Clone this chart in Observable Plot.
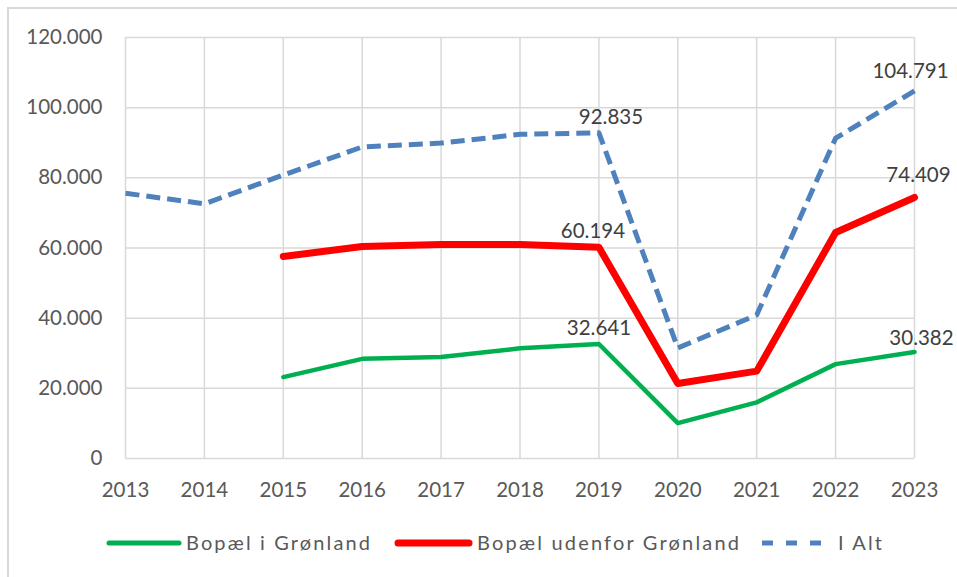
<!DOCTYPE html>
<html><head><meta charset="utf-8">
<script src="https://cdn.jsdelivr.net/npm/d3@7"></script>
<script src="https://cdn.jsdelivr.net/npm/@observablehq/plot@0.6"></script>
<style>
body{margin:0;background:#fff;font-family:Lato,sans-serif;}
#wrap{position:relative;width:957px;height:577px;overflow:hidden;background:#fff;}
#frame{position:absolute;left:7px;top:7px;width:1000px;height:700px;border-top:2px solid #d9d9d9;border-left:2px solid #d9d9d9;}
#chart{position:absolute;left:0;top:0;}
#legend{position:absolute;left:0;top:520px;}
</style></head><body>
<div id="wrap"><div id="frame"></div><div id="chart"></div><div id="legend"></div></div>
<script>
const years = [2013, 2014, 2015, 2016, 2017, 2018, 2019, 2020, 2021, 2022, 2023];
const bopaelIGronland = [null, null, 23200, 28400, 28900, 31400, 32641, 10100, 16000, 26900, 30382];
const bopaelUdenfor = [null, null, 57600, 60400, 61000, 61000, 60194, 21400, 24900, 64400, 74409];
const iAlt = [75600, 72600, 80800, 88800, 89900, 92400, 92835, 31500, 40900, 91300, 104791];
const yTicks = [0, 20000, 40000, 60000, 80000, 100000, 120000];
const seriesNames = ["Bopæl i Grønland", "Bopæl udenfor Grønland", "I Alt"];
const seriesColors = ["#00b050", "#ff0000", "#4f81bd"];

const fmt = d3.formatLocale({decimal: ",", thousands: ".", grouping: [3], currency: ["", ""]}).format(",d");
const rows = years.map((year, i) => ({year, a: bopaelIGronland[i], b: bopaelUdenfor[i], c: iAlt[i]}));
const has = k => rows.filter(d => d[k] != null);
const at = (k, yr) => rows.filter(d => d.year === yr && d[k] != null);

const lbl = (k, yr, dx, dy) => Plot.text(at(k, yr), {
  x: "year", y: k, text: d => fmt(d[k]), dx, dy,
  fill: "#404040", fontSize: 20.5, textAnchor: "middle"
});

const chart = Plot.plot({
  width: 957, height: 520,
  marginLeft: 125, marginRight: 43, marginTop: 37, marginBottom: 62,
  style: {fontFamily: "Lato, sans-serif", fontSize: "20px", color: "#595959", background: "transparent", overflow: "visible"},
  x: {domain: [years[0], years[years.length - 1]], label: null},
  y: {domain: [yTicks[0], yTicks[yTicks.length - 1]], label: null},
  marks: [
    Plot.gridX(years, {stroke: "#d9d9d9", strokeOpacity: 1, strokeWidth: 1.5}),
    Plot.gridY(yTicks, {stroke: "#d9d9d9", strokeOpacity: 1, strokeWidth: 1.5}),
    Plot.axisX(years, {tickSize: 0, tickPadding: 24, tickFormat: d => String(d), fill: "#595959", fontSize: 20.5, label: null}),
    Plot.axisY(yTicks, {tickSize: 0, tickPadding: 23, tickFormat: fmt, fill: "#595959", fontSize: 20.5, label: null}),
    Plot.line(has("a"), {x: "year", y: "a", stroke: seriesColors[0], strokeWidth: 4.5, strokeLinecap: "round", strokeLinejoin: "round"}),
    Plot.line(has("b"), {x: "year", y: "b", stroke: seriesColors[1], strokeWidth: 7, strokeLinecap: "round", strokeLinejoin: "round"}),
    Plot.line(has("c"), {x: "year", y: "c", stroke: seriesColors[2], strokeWidth: 5, strokeDasharray: "14,7", strokeLinecap: "butt", strokeLinejoin: "round"}),
    lbl("c", 2019, 12, -15),
    lbl("b", 2019, -6, -16),
    lbl("a", 2019, 0, -16),
    lbl("c", 2023, -4, -19),
    lbl("b", 2023, 4, -22),
    lbl("a", 2023, 7, -13)
  ]
});
document.getElementById("chart").appendChild(chart);

// legend
const leg = d3.create("svg").attr("width", 957).attr("height", 57)
  .style("font-family", "Lato, sans-serif").style("font-size", "20px");
const items = [
  {x1: 109, x2: 179, tx: 186, tl: 184, w: 5, dash: null},
  {x1: 398, x2: 469, tx: 477, tl: 262, w: 7, dash: null},
  {x1: 762, x2: 822, tx: 838, tl: 44, w: 5, dash: "11,13"}
];
items.forEach((it, i) => {
  const ln = leg.append("line").attr("x1", it.x1).attr("x2", it.x2).attr("y1", 23).attr("y2", 23)
    .attr("stroke", seriesColors[i]).attr("stroke-width", it.w)
    .attr("stroke-linecap", it.dash ? "butt" : "round");
  if (it.dash) ln.attr("stroke-dasharray", it.dash);
  leg.append("text").attr("x", it.tx).attr("y", 23).attr("dy", "0.35em").attr("fill", "#595959")
    .attr("textLength", it.tl).attr("lengthAdjust", "spacing").text(seriesNames[i]);
});
document.getElementById("legend").appendChild(leg.node());
</script>
</body></html>
